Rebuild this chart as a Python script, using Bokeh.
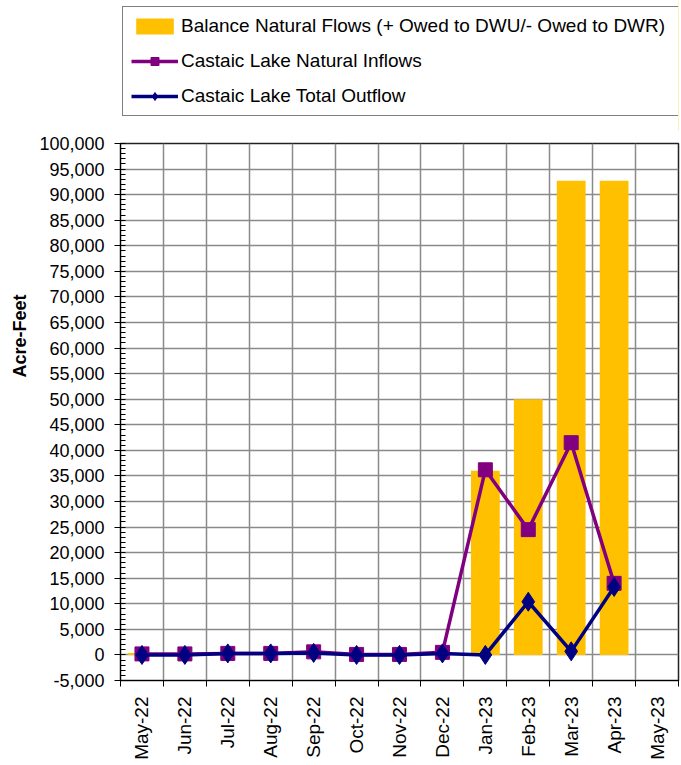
from bokeh.plotting import figure
from bokeh.layouts import column
from bokeh.models import (Range1d, FixedTicker, NumeralTickFormatter, Legend, LegendItem,
                          ColumnDataSource, Title)
from bokeh.embed import file_html
from bokeh.resources import INLINE

months = ["May-22", "Jun-22", "Jul-22", "Aug-22", "Sep-22", "Oct-22", "Nov-22",
          "Dec-22", "Jan-23", "Feb-23", "Mar-23", "Apr-23", "May-23"]
balance = [400, 300, 0, 0, 0, 0, 0, 0, 36000, 50000, 92700, 92700]
inflows = [200, 200, 300, 300, 600, 100, 100, 500, 36200, 24500, 41500, 14000]
outflows = [0, 0, 300, 300, 400, 0, 0, 300, 0, 10400, 700, 13300]
series_names = ["Balance Natural Flows (+ Owed to DWU/- Owed to DWR)",
                "Castaic Lake Natural Inflows", "Castaic Lake Total Outflow"]

FONT = "Liberation Sans"
BAR_C, IN_C, OUT_C = "#FFC000", "#800080", "#000080"
n = len(months)
centers = [i + 0.5 for i in range(n)]
xd = centers[:len(balance)]

# ---------------- main chart ----------------
p = figure(width=680, height=634, output_backend="svg", toolbar_location=None,
           x_range=Range1d(0, n), y_range=Range1d(-5000, 100000),
           min_border_left=120, min_border_right=2, min_border_bottom=85, min_border_top=12)
p.background_fill_color = "white"
p.border_fill_color = "white"
p.outline_line_color = "#222222"
p.outline_line_width = 1.5

src = ColumnDataSource(dict(x=xd, bal=balance, inf=inflows, out=outflows))

p.vbar(x="x", top="bal", width=0.67, source=src, fill_color=BAR_C, line_color=None)
p.line(x="x", y="inf", source=src, line_color=IN_C, line_width=3.5)
p.scatter(x="x", y="inf", source=src, marker="square", size=14,
          fill_color=IN_C, line_color=IN_C)
p.line(x="x", y="out", source=src, line_color=OUT_C, line_width=3.5)
p.scatter(x="x", y="out", source=src, marker="diamond", size=19,
          fill_color=OUT_C, line_color=OUT_C)

# y axis
p.yaxis.ticker = FixedTicker(ticks=list(range(-5000, 100001, 5000)),
                             minor_ticks=list(range(-5000, 100001, 1000)))
p.yaxis.formatter = NumeralTickFormatter(format="0,0")
p.yaxis.major_label_text_font = FONT
p.yaxis.major_label_text_font_size = "18px"
p.yaxis.major_label_text_color = "black"
p.yaxis.major_tick_out = 6
p.yaxis.major_tick_in = 0
p.yaxis.minor_tick_out = 0
p.yaxis.minor_tick_in = 5
p.yaxis.axis_line_color = "black"
p.yaxis.major_tick_line_color = "black"
p.yaxis.minor_tick_line_color = "black"
p.yaxis.major_label_standoff = 10
p.ygrid.ticker = FixedTicker(ticks=list(range(-5000, 100001, 5000)))
p.ygrid.grid_line_color = "#8a8a8a"
p.ygrid.grid_line_width = 1.5

ylab = Title(text="Acre-Feet", text_font=FONT, text_font_style="bold",
             text_font_size="18px", text_color="black", align="left", offset=303,
             standoff=14)
p.add_layout(ylab, "left")

# x axis
p.xaxis.ticker = FixedTicker(ticks=centers, minor_ticks=list(range(n + 1)))
p.xaxis.major_label_overrides = {c: m for c, m in zip(centers, months)}
p.xaxis.major_label_orientation = 1.5708
p.xaxis.major_label_text_font = FONT
p.xaxis.major_label_text_font_size = "19px"
p.xaxis.major_label_text_color = "black"
p.xaxis.major_tick_line_color = None
p.xaxis.minor_tick_out = 6
p.xaxis.minor_tick_in = 0
p.xaxis.minor_tick_line_color = "black"
p.xaxis.axis_line_color = "black"
p.xaxis.major_label_standoff = 10
p.xgrid.ticker = FixedTicker(ticks=list(range(n + 1)))
p.xgrid.grid_line_color = "#8a8a8a"
p.xgrid.grid_line_width = 1.5

# ---------------- legend strip ----------------
lg = figure(width=680, height=131, output_backend="svg", toolbar_location=None,
            x_range=Range1d(0, 1), y_range=Range1d(0, 1),
            x_axis_location=None, y_axis_location=None,
            min_border_left=0, min_border_right=0, min_border_top=0, min_border_bottom=0)
lg.outline_line_color = None
lg.xgrid.visible = False
lg.ygrid.visible = False
# off-screen placeholder renderers, only used to draw the legend glyphs
dummy = ColumnDataSource(dict(x=[5], y=[5]))
rb = lg.vbar(x="x", top="y", width=0.5, source=dummy, fill_color=BAR_C, line_color=None)
r1l = lg.line(x="x", y="y", source=dummy, line_color=IN_C, line_width=3.5)
r1s = lg.scatter(x="x", y="y", source=dummy, marker="square", size=14,
                 fill_color=IN_C, line_color=IN_C)
r2l = lg.line(x="x", y="y", source=dummy, line_color=OUT_C, line_width=3.5)
r2s = lg.scatter(x="x", y="y", source=dummy, marker="diamond", size=19,
                 fill_color=OUT_C, line_color=OUT_C)

legend = Legend(items=[
    LegendItem(label=series_names[0], renderers=[rb]),
    LegendItem(label=series_names[1], renderers=[r1l, r1s]),
    LegendItem(label=series_names[2], renderers=[r2l, r2s]),
], location=(2, 15))
legend.label_text_font = FONT
legend.label_text_font_size = "19px"
legend.label_text_color = "black"
legend.glyph_width = 47
legend.glyph_height = 20
legend.label_height = 20
legend.label_standoff = 3
legend.label_width = 490
legend.spacing = 13
legend.padding = 8
legend.margin = 0
legend.border_line_color = "black"
legend.border_line_width = 1
legend.background_fill_alpha = 1
lg.add_layout(legend, "center")

layout = column(lg, p, spacing=0)
open("out.html", "w").write(file_html(layout, INLINE))
